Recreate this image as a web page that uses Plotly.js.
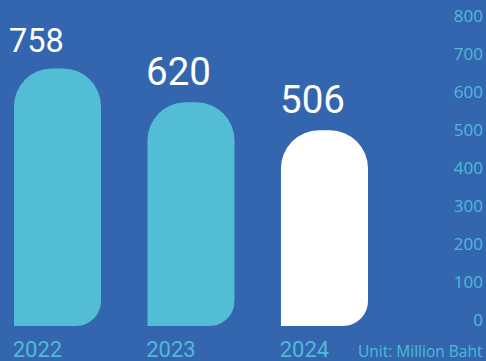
<!DOCTYPE html>
<html>
<head>
<meta charset="utf-8">
<script src="https://cdn.plot.ly/plotly-3.0.1.min.js"></script>
<style>html,body{margin:0;padding:0;background:#3466b0;}#chart{width:486px;height:361px;}</style>
</head>
<body>
<div id="chart"></div>
<script>
// ---- data ----
const years = ['2022', '2023', '2024'];
const revenue = [758, 620, 506];
const yTickValues = [0, 100, 200, 300, 400, 500, 600, 700, 800];
const yTickLabels = ['0', '100', '200', '300', '400', '500', '600', '700', '800'];
const unitLabel = 'Unit: Million Baht';

// ---- styles ----
const BG = '#3466b0';
const TEAL = '#52bdd4';
const TICK = '#4fbad6';
const barColors = [TEAL, TEAL, '#ffffff'];
const labelSizes = [32.5, 38.5, 38.5];
const labelShift = [-21, -12, -12];
const barBase = -800;          // bars start below the visible area (bottom is clipped)
const barRange = [-291.6, 971.6];
const barWidth = 0.652;
const barPx = 87;
const cornerR = 25;

const bars = {
  type: 'bar',
  x: years,
  y: revenue.map(v => v - barBase),
  base: barBase,
  width: barWidth,
  marker: { color: barColors, cornerradius: 38, line: { width: 0 } },
  hoverinfo: 'skip'
};
// carrier for the right-hand value scale (invisible)
const scaleCarrier = {
  type: 'scatter', mode: 'markers', x: years, y: revenue, yaxis: 'y2',
  marker: { opacity: 0, size: 1 }, hoverinfo: 'skip'
};

const annotations = years.map((yr, i) => ({
  x: i, y: revenue[i], xref: 'x', yref: 'y',
  text: String(revenue[i]), showarrow: false,
  xanchor: 'center', yanchor: 'bottom',
  xshift: labelShift[i], yshift: 6,
  font: { family: 'Roboto', size: labelSizes[i], color: '#ffffff' }
}));
annotations.push({
  x: 1, y: 0, xref: 'paper', yref: 'paper', xanchor: 'right', yanchor: 'middle',
  xshift: -2, yshift: -24.5, borderpad: 0,
  text: unitLabel, showarrow: false,
  font: { family: 'Open Sans', size: 15.5, color: TICK }
});

// masks rounding the bottom-right corner of each bar
const k = 0.5523;
const hw = barPx / 2;
const shapes = years.map((yr, i) => ({
  type: 'path', xref: 'x', yref: 'paper',
  xsizemode: 'pixel', ysizemode: 'pixel',
  xanchor: i, yanchor: 0,
  path: `M ${hw + 1} -2 L ${hw + 1} ${cornerR} L ${hw} ${cornerR} C ${hw} ${cornerR * (1 - k)} ${hw - cornerR * (1 - k)} 0 ${hw - cornerR} 0 L ${hw - cornerR} -2 Z`,
  fillcolor: BG, line: { width: 0 }, layer: 'above'
}));

const layout = {
  width: 486, height: 361,
  paper_bgcolor: BG, plot_bgcolor: BG,
  margin: { l: 0, r: 0, t: 16, b: 35 },
  showlegend: false,
  xaxis: {
    type: 'category', range: [-0.4307, 3.210],
    showgrid: false, zeroline: false, showline: false, ticks: '',
    tickfont: { family: 'Roboto', size: 22, color: TICK },
    ticklabelshift: -20, ticklabelstandoff: 8
  },
  yaxis: {
    range: barRange, showticklabels: false,
    showgrid: false, zeroline: false, showline: false, ticks: ''
  },
  yaxis2: {
    overlaying: 'y', anchor: 'x', side: 'right', ticklabelposition: 'inside',
    ticklabeloverflow: 'allow',
    range: [-15.8, 800],
    tickvals: yTickValues, ticktext: yTickLabels,
    showgrid: false, zeroline: false, showline: false, ticks: '',
    tickfont: { family: 'Open Sans', size: 17, color: TICK }
  },
  annotations: annotations,
  shapes: shapes
};

Plotly.newPlot('chart', [bars, scaleCarrier], layout, { staticPlot: true, displayModeBar: false });
</script>
</body>
</html>
